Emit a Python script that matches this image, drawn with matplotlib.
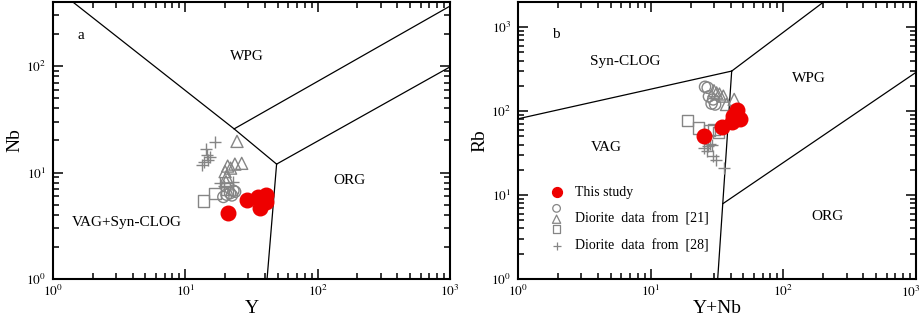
import numpy as np
import matplotlib
matplotlib.use("Agg")
import matplotlib.pyplot as plt
from matplotlib.ticker import LogLocator, FuncFormatter, NullFormatter

plt.rcParams['font.family'] = ['Liberation Serif', 'DejaVu Serif']
plt.rcParams['mathtext.fontset'] = 'stix'

# ---- panel a: Nb vs Y ----
a_red_y = [21.1, 29.3, 35.5, 40.5, 40.8, 36.7, 38.5]
a_red_nb = [4.14, 5.48, 5.9, 6.2, 5.3, 4.6, 5.7]
a_circ_y = [19.4, 21.8, 23.1, 23.8, 22.5, 20.5]
a_circ_nb = [5.9, 6.4, 6.75, 6.6, 6.1, 6.2]
a_tri_y = [24.6, 26.7, 23.7, 20.9, 20.0, 20.5, 20.3, 22.0]
a_tri_nb = [19.6, 12.2, 12.0, 11.5, 10.2, 9.1, 8.2, 11.0]
a_sq_y = [13.8, 16.8, 20.7]
a_sq_nb = [5.4, 6.4, 7.0]
a_plus_y = [16.8, 14.3, 14.6, 15.4, 14.9, 13.3, 13.8, 18.3, 23.0, 19.5]
a_plus_nb = [19.5, 16.6, 14.6, 13.9, 13.1, 11.8, 12.6, 7.9, 8.2, 7.5]

# ---- panel b: Rb vs Y+Nb ----
b_red_x = [25.2, 34.7, 40.8, 44.5, 47.1, 41.8]
b_red_rb = [50.2, 64.2, 75.1, 102, 80.9, 88]
b_circ_x = [25.7, 26.9, 28.8, 30.6, 29.6, 27.5]
b_circ_rb = [195, 190, 123, 120, 138, 150]
b_tri_x = [31.4, 35.3, 37.3, 42.6, 30.0, 33.0]
b_tri_rb = [165, 151, 120, 138, 175, 160]
b_sq_x = [19.0, 22.8, 27.6, 32.3, 30.0]
b_sq_rb = [77.3, 63.0, 58.6, 56.0, 60.0]
b_plus_x = [25.3, 28.8, 27.1, 29.6, 31.0, 35.9, 26.4, 28.0]
b_plus_rb = [36.4, 39.9, 38.2, 28.9, 26.4, 21.0, 33.2, 41.0]

# discrimination boundaries (Pearce et al. 1984)
a_lines = [
    ([1.41, 23.4, 49.0], [400, 25.7, 12.0]),
    ([23.4, 1000], [25.7, 365]),
    ([49.0, 1000], [12.0, 98]),
    ([49.0, 41.5], [12.0, 1.0]),
]
b_lines = [
    ([1.0, 40.8], [81, 300]),
    ([40.8, 198], [300, 1960]),
    ([40.8, 32.0], [300, 1.0]),
    ([35.0, 1000], [7.9, 290]),
]
a_labels = [("a", 1.63, 195), ("WPG", 29, 124), ("ORG", 173, 8.5),
            ("VAG+Syn-CLOG", 3.6, 3.4)]
b_labels = [("b", 1.93, 810), ("Syn-CLOG", 6.4, 389), ("WPG", 156, 244),
            ("VAG", 4.6, 37), ("ORG", 215, 5.5)]

gray = '#858585'
red = '#ee0000'


def pow_label(v):
    return r'$10^{%d}$' % round(np.log10(v))


def style_axes(ax, ymax, drop_last_x=False):
    ax.set_xscale('log')
    ax.set_yscale('log')
    ax.set_xlim(1, 1000)
    ax.set_ylim(1, ymax)
    yfmt = FuncFormatter(lambda v, p: pow_label(v))
    if drop_last_x:
        xfmt = FuncFormatter(lambda v, p: '' if v >= 999 else pow_label(v))
    else:
        xfmt = yfmt
    for axis, fmt in ((ax.xaxis, xfmt), (ax.yaxis, yfmt)):
        axis.set_major_locator(LogLocator(base=10, numticks=10))
        axis.set_minor_locator(LogLocator(base=10, subs=np.arange(2, 10), numticks=10))
        axis.set_major_formatter(fmt)
        axis.set_minor_formatter(NullFormatter())
    ax.tick_params(which='both', direction='in', top=True, right=True, width=1.1)
    ax.tick_params(which='major', length=7, labelsize=9.5)
    ax.tick_params(which='minor', length=4.5)
    ax.tick_params(axis='y', pad=5)
    for s in ax.spines.values():
        s.set_linewidth(1.5)


def draw_points(ax, red_xy, circ, tri, sq, plus):
    ax.scatter(*circ, s=65, marker='o', facecolors='none', edgecolors=gray, linewidths=1, zorder=3)
    ax.scatter(*tri, s=75, marker='^', facecolors='none', edgecolors=gray, linewidths=1, zorder=3)
    ax.scatter(*sq, s=65, marker='s', facecolors='none', edgecolors=gray, linewidths=1, zorder=3)
    ax.scatter(*plus, s=65, marker='+', color=gray, linewidths=1, zorder=3)
    ax.scatter(*red_xy, s=110, marker='o', color=red, zorder=4)


fig = plt.figure(figsize=(9.2, 3.2), dpi=100)
ax1 = fig.add_axes([0.0576, 0.128, 0.4314, 0.866])
ax2 = fig.add_axes([0.563, 0.128, 0.4327, 0.866])

for xs, ys in a_lines:
    ax1.plot(xs, ys, color='black', lw=0.9)
for xs, ys in b_lines:
    ax2.plot(xs, ys, color='black', lw=0.9)

draw_points(ax1, (a_red_y, a_red_nb), (a_circ_y, a_circ_nb), (a_tri_y, a_tri_nb),
            (a_sq_y, a_sq_nb), (a_plus_y, a_plus_nb))
draw_points(ax2, (b_red_x, b_red_rb), (b_circ_x, b_circ_rb), (b_tri_x, b_tri_rb),
            (b_sq_x, b_sq_rb), (b_plus_x, b_plus_rb))

for t, x, y in a_labels:
    ax1.text(x, y, t, ha='center', va='center', fontsize=11)
for t, x, y in b_labels:
    ax2.text(x, y, t, ha='center', va='center', fontsize=11)

style_axes(ax1, 400)
style_axes(ax2, 2000, drop_last_x=True)
ax1.set_xlabel('Y', fontsize=14, labelpad=1)
ax1.set_ylabel('Nb', fontsize=14, labelpad=2)
ax2.set_xlabel('Y+Nb', fontsize=14, labelpad=1)
ax2.set_ylabel('Rb', fontsize=14, labelpad=2)

# last x tick label of panel b, pulled inside the picture edge
ax2.annotate(pow_label(1000), xy=(1000, 1), xytext=(3, -4.5), textcoords='offset points',
             ha='right', va='top', fontsize=9.5, annotation_clip=False)

# legend drawn by hand (stacked symbols as in the original)
lx, tx = 0.097, 0.143
ax2.scatter([lx], [0.313], s=50, marker='o', color=red, transform=ax2.transAxes, clip_on=False)
ax2.scatter([lx], [0.255], s=30, marker='o', facecolors='none', edgecolors=gray, lw=0.9, transform=ax2.transAxes)
ax2.scatter([lx], [0.216], s=35, marker='^', facecolors='none', edgecolors=gray, lw=0.9, transform=ax2.transAxes)
ax2.scatter([lx], [0.181], s=30, marker='s', facecolors='none', edgecolors=gray, lw=0.9, transform=ax2.transAxes)
ax2.scatter([lx], [0.118], s=35, marker='+', color=gray, lw=0.9, transform=ax2.transAxes)
ax2.text(tx, 0.313, 'This study', transform=ax2.transAxes, va='center', fontsize=10)
ax2.text(tx, 0.218, 'Diorite  data  from  [21]', transform=ax2.transAxes, va='center', fontsize=10)
ax2.text(tx, 0.118, 'Diorite  data  from  [28]', transform=ax2.transAxes, va='center', fontsize=10)

fig.savefig('out.png', dpi=100)
